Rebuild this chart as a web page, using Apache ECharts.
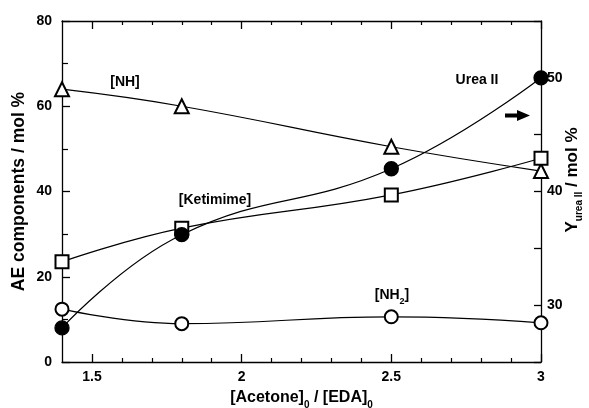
<!DOCTYPE html>
<html><head><meta charset="utf-8">
<script src="https://cdn.jsdelivr.net/npm/echarts@6/dist/echarts.min.js"></script>
<style>html,body{margin:0;padding:0;background:#fff}#c{width:589px;height:408px}</style>
</head><body><div id="c"></div>
<script>
const xValues = [1.4, 1.8, 2.5, 3.0];
const nhValues = [64.0, 60.0, 50.5, 44.8];
const ketimimeValues = [23.5, 31.4, 39.2, 47.8];
const nh2Values = [12.4, 9.0, 10.6, 9.2];
const ureaValues = [28.0, 36.2, 42.0, 50.0];
const xMajorTicks = [1.5, 2, 2.5, 3];
const xMinorTicks = [1.6, 1.7, 1.8, 1.9, 2.1, 2.2, 2.3, 2.4, 2.6, 2.7, 2.8, 2.9];
const rightLabels = [30, 40, 50];

const F = 'Liberation Sans, Arial, Helvetica, sans-serif';
const pair = (ys) => xValues.map((x, i) => [x, ys[i]]);
const chart = echarts.init(document.getElementById('c'), null, {renderer: 'canvas'});
const blackLine = {show: true, lineStyle: {color: '#000', width: 1.3}};
const labelStyle = {color: '#000', fontFamily: F, fontWeight: 'bold', fontSize: 14};
const xBase = {type: 'value', min: 1.4, max: 3, splitLine: {show: false}};

function lineSeries(name, data, symbol, yAxisIndex, size) {
  return {
    name, type: 'line', data, smooth: 0.45, yAxisIndex: yAxisIndex, xAxisIndex: 0,
    symbol, symbolSize: size, showSymbol: true,
    lineStyle: {color: '#000', width: 1.2},
    itemStyle: {color: '#000', borderColor: '#000', borderWidth: 1.3},
    z: 3
  };
}

chart.setOption({
  animation: false,
  backgroundColor: '#fff',
  grid: {left: 62, right: 48, top: 21, bottom: 46, containLabel: false, outerBoundsMode: 'none'},
  xAxis: [
    Object.assign({}, xBase, {
      position: 'bottom', axisLine: blackLine,
      axisTick: {show: true, inside: true, length: 8, customValues: xMajorTicks, lineStyle: {color: '#000', width: 1.3}},
      axisLabel: Object.assign({}, labelStyle, {margin: 8, customValues: xMajorTicks, formatter: v => String(v)}),
      name: '{b|[Acetone]}{s|0}{b| / [EDA]}{s|0}', nameLocation: 'middle', nameGap: 28, nameMoveOverlap: false,
      nameTextStyle: {rich: {
        b: {fontFamily: F, fontWeight: 'bold', fontSize: 16, color: '#000', lineHeight: 20, verticalAlign: 'top'},
        s: {fontFamily: F, fontWeight: 'bold', fontSize: 10, color: '#000', lineHeight: 10, verticalAlign: 'bottom'}
      }}
    }),
    Object.assign({}, xBase, {
      position: 'bottom', axisLine: {show: false},
      axisTick: {show: true, inside: true, length: 4, customValues: xMinorTicks, lineStyle: {color: '#000', width: 1.2}},
      axisLabel: {show: false}
    }),
    Object.assign({}, xBase, {
      position: 'top', axisLine: blackLine,
      axisTick: {show: true, inside: true, length: 8, customValues: xMajorTicks, lineStyle: {color: '#000', width: 1.3}},
      axisLabel: {show: false}
    }),
    Object.assign({}, xBase, {
      position: 'top', axisLine: {show: false},
      axisTick: {show: true, inside: true, length: 4, customValues: xMinorTicks, lineStyle: {color: '#000', width: 1.2}},
      axisLabel: {show: false}
    })
  ],
  yAxis: [
    {
      type: 'value', min: 0, max: 80, interval: 20, position: 'left',
      axisLine: blackLine, splitLine: {show: false},
      axisTick: {show: true, inside: true, length: 8, lineStyle: {color: '#000', width: 1.3}},
      minorTick: {show: true, splitNumber: 2, length: 6, lineStyle: {color: '#000', width: 1.2}},
      axisLabel: Object.assign({}, labelStyle, {margin: 10}),
      name: 'AE components / mol %', nameLocation: 'middle', nameRotate: 90, nameGap: 34, nameMoveOverlap: false,
      nameTextStyle: {fontFamily: F, fontWeight: 'bold', fontSize: 17.5, color: '#000'}
    },
    {
      type: 'value', min: 25, max: 55, interval: 5, position: 'right',
      axisLine: blackLine, splitLine: {show: false},
      axisTick: {show: true, inside: true, length: 7, lineStyle: {color: '#000', width: 1.3}},
      axisLabel: Object.assign({}, labelStyle, {margin: 6, customValues: rightLabels, formatter: v => String(v)})
    }
  ],
  series: [
    lineSeries('[NH]', pair(nhValues), 'emptyTriangle', 0, 14),
    lineSeries('[Ketimime]', pair(ketimimeValues), 'emptyRect', 0, 13),
    lineSeries('[NH2]', pair(nh2Values), 'emptyCircle', 0, 13),
    lineSeries('Urea II', pair(ureaValues), 'circle', 1, 14)
  ],
  graphic: [
    {type: 'text', x: 125, y: 82, style: {text: '[NH]', font: 'bold 14px ' + F, fill: '#000', align: 'center', verticalAlign: 'middle'}},
    {type: 'text', x: 477, y: 80, style: {text: 'Urea II', font: 'bold 14px ' + F, fill: '#000', align: 'center', verticalAlign: 'middle'}},
    {type: 'text', x: 215, y: 200, style: {text: '[Ketimime]', font: 'bold 14px ' + F, fill: '#000', align: 'center', verticalAlign: 'middle'}},
    {type: 'text', x: 392, y: 297, style: {
      text: '{b|[NH}{s|2}{b|]}', align: 'center', verticalAlign: 'middle',
      rich: {
        b: {font: 'bold 14px ' + F, fill: '#000', lineHeight: 18, verticalAlign: 'top'},
        s: {font: 'bold 9px ' + F, fill: '#000', lineHeight: 9, verticalAlign: 'bottom'}
      }}},
    {type: 'text', x: 574, y: 180, rotation: Math.PI / 2, style: {
      text: '{b|Y}{s|urea II}{b| / mol %}', align: 'center', verticalAlign: 'middle',
      rich: {
        b: {font: 'bold 17px ' + F, fill: '#000', lineHeight: 20, verticalAlign: 'top'},
        s: {font: 'bold 10px ' + F, fill: '#000', lineHeight: 10, verticalAlign: 'bottom'}
      }}},
    {type: 'polygon', shape: {points: [[505, 113.5], [517, 113.5], [517, 110], [530, 115.5], [517, 121], [517, 117.5], [505, 117.5]]},
      style: {fill: '#000'}}
  ]
});
</script></body></html>
